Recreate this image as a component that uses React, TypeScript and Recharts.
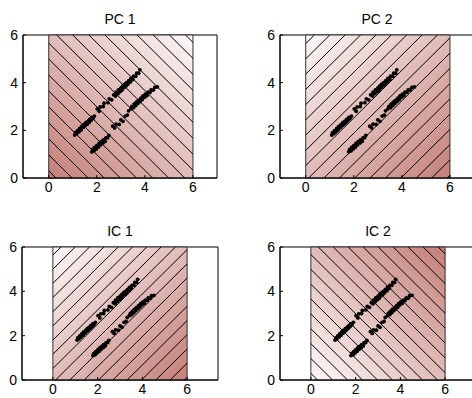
import React from 'react'
import { ScatterChart, Scatter, XAxis, YAxis, ReferenceArea, ReferenceLine } from 'recharts'

const TICKS = [0, 2, 4, 6]

// upper band of points
const BAND_A = [
  { x: 1.08, y: 1.8 }, { x: 1.11, y: 1.9 }, { x: 1.17, y: 1.86 }, { x: 1.2, y: 1.99 },
  { x: 1.26, y: 1.94 }, { x: 1.29, y: 2.08 }, { x: 1.35, y: 2.02 }, { x: 1.37, y: 2.16 },
  { x: 1.44, y: 2.12 }, { x: 1.46, y: 2.24 }, { x: 1.52, y: 2.2 }, { x: 1.54, y: 2.32 },
  { x: 1.6, y: 2.26 }, { x: 1.62, y: 2.38 }, { x: 1.68, y: 2.34 }, { x: 1.7, y: 2.46 },
  { x: 1.76, y: 2.42 }, { x: 1.79, y: 2.54 }, { x: 1.84, y: 2.5 }, { x: 1.9, y: 2.6 },
  { x: 2.02, y: 2.9 }, { x: 2.1, y: 2.8 }, { x: 2.14, y: 2.98 }, { x: 2.27, y: 3.0 },
  { x: 2.3, y: 3.14 }, { x: 2.46, y: 3.16 }, { x: 2.52, y: 3.32 }, { x: 2.62, y: 3.28 },
  { x: 2.7, y: 3.49 }, { x: 2.78, y: 3.44 }, { x: 2.8, y: 3.6 }, { x: 2.88, y: 3.54 },
  { x: 2.9, y: 3.7 }, { x: 2.98, y: 3.63 }, { x: 3.0, y: 3.78 }, { x: 3.06, y: 3.7 },
  { x: 3.08, y: 3.86 }, { x: 3.14, y: 3.8 }, { x: 3.16, y: 3.94 }, { x: 3.22, y: 3.87 },
  { x: 3.24, y: 4.0 }, { x: 3.3, y: 3.94 }, { x: 3.33, y: 4.08 }, { x: 3.4, y: 4.03 },
  { x: 3.42, y: 4.18 }, { x: 3.5, y: 4.13 }, { x: 3.53, y: 4.27 }, { x: 3.62, y: 4.27 },
  { x: 3.66, y: 4.4 }, { x: 3.74, y: 4.4 }, { x: 3.79, y: 4.54 },
]

// lower band of points
const BAND_B = [
  { x: 1.79, y: 1.1 }, { x: 1.83, y: 1.2 }, { x: 1.89, y: 1.14 }, { x: 1.91, y: 1.28 },
  { x: 1.98, y: 1.22 }, { x: 2.0, y: 1.36 }, { x: 2.07, y: 1.3 }, { x: 2.09, y: 1.45 },
  { x: 2.16, y: 1.39 }, { x: 2.18, y: 1.52 }, { x: 2.26, y: 1.47 }, { x: 2.27, y: 1.6 },
  { x: 2.35, y: 1.54 }, { x: 2.38, y: 1.68 }, { x: 2.45, y: 1.69 }, { x: 2.5, y: 1.79 },
  { x: 2.66, y: 2.18 }, { x: 2.74, y: 2.1 }, { x: 2.8, y: 2.26 }, { x: 2.93, y: 2.25 },
  { x: 3.0, y: 2.44 }, { x: 3.09, y: 2.38 }, { x: 3.18, y: 2.6 }, { x: 3.27, y: 2.64 },
  { x: 3.32, y: 2.82 },
  { x: 3.42, y: 2.9 }, { x: 3.46, y: 3.0 }, { x: 3.53, y: 2.95 }, { x: 3.55, y: 3.1 },
  { x: 3.62, y: 3.04 }, { x: 3.64, y: 3.18 }, { x: 3.71, y: 3.13 }, { x: 3.73, y: 3.26 },
  { x: 3.8, y: 3.21 }, { x: 3.83, y: 3.35 }, { x: 3.89, y: 3.29 }, { x: 3.92, y: 3.44 },
  { x: 3.99, y: 3.39 }, { x: 4.02, y: 3.52 }, { x: 4.09, y: 3.46 }, { x: 4.13, y: 3.6 },
  { x: 4.21, y: 3.59 }, { x: 4.26, y: 3.7 }, { x: 4.35, y: 3.69 }, { x: 4.41, y: 3.8 },
  { x: 4.52, y: 3.82 },
]

// contour levels: x + y = c
const SUM_LEVELS = [0.3, 0.97, 1.64, 2.31, 2.98, 3.65, 4.32, 4.99, 5.66, 6.33, 7.0, 7.67, 8.34, 9.01, 9.68, 10.35, 11.02, 11.69]
// contour levels: y - x = c
const DIFF_LEVELS = [5.64, 5.0, 4.36, 3.72, 3.08, 2.44, 1.8, 1.16, 0.52, -0.12, -0.76, -1.4, -2.04, -2.68, -3.32, -3.96, -4.6, -5.24, -5.88]

const TITLES = ['PC 1', 'PC 2', 'IC 1', 'IC 2']

const DARK = '#c47f78'
const LIGHT = '#fdf9f9'

// clip contour line to the [0,6] square
function segmentFor(kind: 'sum' | 'diff', c: number) {
  if (kind === 'sum') {
    return c <= 6
      ? [{ x: 0, y: c }, { x: c, y: 0 }]
      : [{ x: c - 6, y: 6 }, { x: 6, y: c - 6 }]
  }
  return c >= 0
    ? [{ x: 0, y: c }, { x: 6 - c, y: 6 }]
    : [{ x: -c, y: 0 }, { x: 6, y: 6 + c }]
}

const panels = [
  { id: 'pc1', left: 23, top: 35, w: 194, h: 143, xDomain: [-1.07, 7.0], hatch: 'sum', grad: [0, 1, 1, 0], stops: [DARK, LIGHT] },
  { id: 'pc2', left: 280, top: 35, w: 194, h: 143, xDomain: [-1.07, 7.0], hatch: 'diff', grad: [0, 0, 1, 1], stops: [LIGHT, DARK] },
  { id: 'ic1', left: 22, top: 247, w: 196, h: 133, xDomain: [-1.38, 7.38], hatch: 'diff', grad: [0, 0, 1, 1], stops: [LIGHT, DARK] },
  { id: 'ic2', left: 280, top: 247, w: 196, h: 133, xDomain: [-1.38, 7.38], hatch: 'sum', grad: [0, 1, 1, 0], stops: [LIGHT, DARK] },
]

const axisStyle = { stroke: '#000', strokeWidth: 1 }
const tickStyle = { fill: '#000', fontSize: 14 }

function Dot(props: any) {
  return <circle cx={props.cx} cy={props.cy} r={1.9} fill="#000" />
}

function Panel({ p, title }: { p: any; title: string }) {
  const padL = 30
  const padT = 30
  const levels = p.hatch === 'sum' ? SUM_LEVELS : DIFF_LEVELS
  return (
    <div style={{ position: 'absolute', left: p.left - padL, top: p.top - padT }}>
      <div
        style={{
          position: 'absolute', left: padL, top: 6, width: p.w,
          textAlign: 'center', fontSize: 14, lineHeight: '16px',
        }}
      >
        {title}
      </div>
      <ScatterChart
        width={padL + p.w + 20}
        height={padT + p.h + 25}
        margin={{ top: padT, right: 20, bottom: 0, left: 0 }}
      >
        <defs>
          <linearGradient id={`g-${p.id}`} x1={p.grad[0]} y1={p.grad[1]} x2={p.grad[2]} y2={p.grad[3]}>
            <stop offset="0%" stopColor={p.stops[0]} />
            <stop offset="100%" stopColor={p.stops[1]} />
          </linearGradient>
        </defs>
        <XAxis
          type="number" dataKey="x" domain={p.xDomain} ticks={TICKS} allowDataOverflow
          height={25} axisLine={axisStyle} tickLine={axisStyle} tickSize={-3} tickMargin={7}
          tick={tickStyle}
        />
        <XAxis
          xAxisId="top" orientation="top" type="number" domain={p.xDomain} ticks={TICKS}
          allowDataOverflow height={0} axisLine={axisStyle} tickLine={axisStyle} tickSize={-3} tick={false}
        />
        <YAxis
          type="number" dataKey="y" domain={[0, 6]} ticks={TICKS} allowDataOverflow
          width={padL} axisLine={axisStyle} tickLine={axisStyle} tickSize={-3} tickMargin={8}
          tick={tickStyle}
        />
        <YAxis
          yAxisId="right" orientation="right" type="number" domain={[0, 6]} ticks={TICKS}
          allowDataOverflow width={0} axisLine={axisStyle} tickLine={axisStyle} tickSize={-3} tick={false}
        />
        {/* axes box */}
        <ReferenceArea y1={0} y2={6} fill="none" fillOpacity={0} stroke="#000" strokeWidth={1} ifOverflow="visible" />
        <ReferenceArea
          x1={0} x2={6} y1={0} y2={6}
          fill={`url(#g-${p.id})`} fillOpacity={1} stroke="#333" strokeWidth={1}
        />
        {levels.map((c: number, i: number) => (
          <ReferenceLine
            key={i}
            segment={segmentFor(p.hatch, c)}
            stroke="#000"
            strokeWidth={1}
            ifOverflow="visible"
          />
        ))}
        <Scatter data={BAND_A} shape={<Dot />} isAnimationActive={false} />
        <Scatter data={BAND_B} shape={<Dot />} isAnimationActive={false} />
      </ScatterChart>
    </div>
  )
}

export default function App() {
  return (
    <div
      style={{
        position: 'absolute', left: 0, top: 0, width: 472, height: 398,
        overflow: 'hidden', background: '#fff',
        fontFamily: '"Liberation Sans", Arial, Helvetica, sans-serif',
      }}
    >
      {panels.map((p, i) => (
        <Panel key={p.id} p={p} title={TITLES[i]} />
      ))}
    </div>
  )
}
